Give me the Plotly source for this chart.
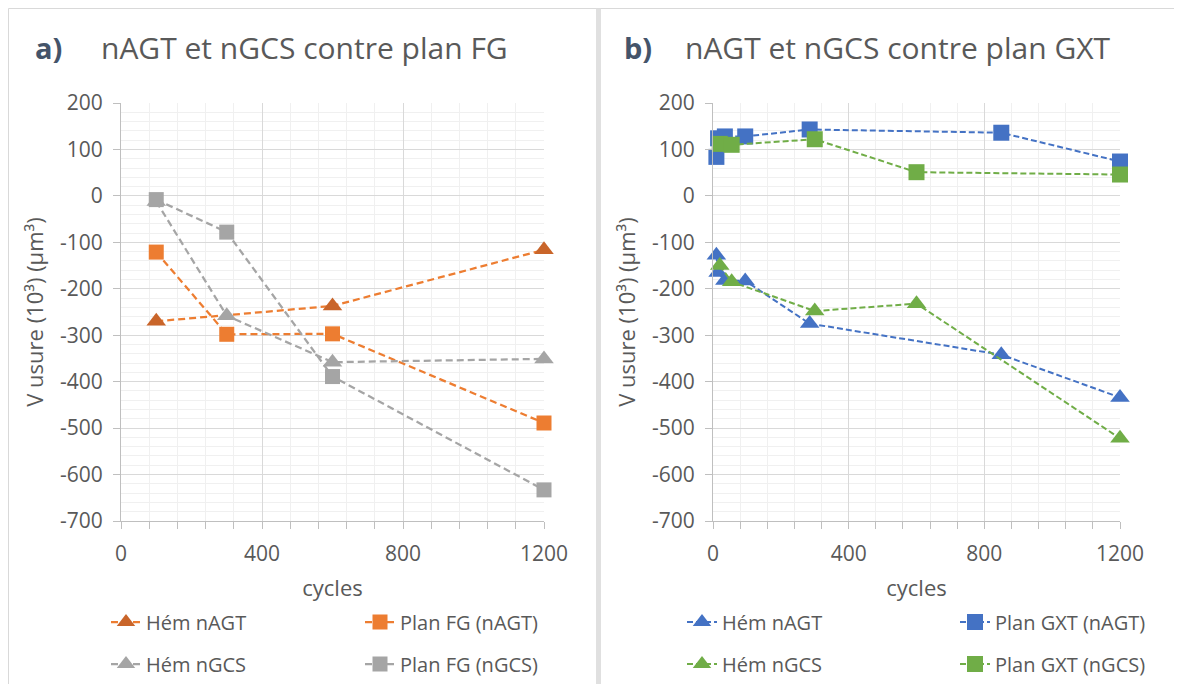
import plotly.graph_objects as go

# ---------------- data ----------------
# Panel a) : nAGT et nGCS contre plan FG
a_hem_nagt_x = [100, 600, 1200]
a_hem_nagt_y = [-270, -237, -116]
a_plan_nagt_x = [100, 300, 600, 1200]
a_plan_nagt_y = [-121, -298, -297, -489]
a_hem_ngcs_x = [100, 300, 600, 1200]
a_hem_ngcs_y = [-12, -258, -358, -351]
a_plan_ngcs_x = [100, 300, 600, 1200]
a_plan_ngcs_y = [-8, -78, -389, -633]

# Panel b) : nAGT et nGCS contre plan GXT
b_hem_nagt_x = [10, 15, 35, 95, 285, 850, 1200]
b_hem_nagt_y = [-128, -165, -182, -183, -275, -342, -434]
b_plan_nagt_x = [10, 15, 35, 95, 285, 850, 1200]
b_plan_nagt_y = [84, 124, 128, 128, 143, 136, 74]
b_hem_ngcs_x = [20, 55, 300, 600, 1200]
b_hem_ngcs_y = [-150, -185, -248, -232, -522]
b_plan_ngcs_x = [20, 55, 300, 600, 1200]
b_plan_ngcs_y = [112, 110, 122, 51, 46]

names_a = ["Hém nAGT", "Plan FG (nAGT)", "Hém nGCS", "Plan FG (nGCS)"]
names_b = ["Hém nAGT", "Plan GXT (nAGT)", "Hém nGCS", "Plan GXT (nGCS)"]
title_a = "nAGT et nGCS contre plan FG"
title_b = "nAGT et nGCS contre plan GXT"
x_title = "cycles"
y_title = "V usure (10³) (µm³)"
y_tick_vals = [200, 100, 0, -100, -200, -300, -400, -500, -600, -700]
y_tick_text = ["200", "100", "0", "-100", "-200", "-300", "-400", "-500", "-600", "-700"]
x_tick_vals = [0, 400, 800, 1200]
x_tick_text = ["0", "400", "800", "1200"]

# ---------------- style ----------------
# page body has an 8px margin: the figure is drawn 8px smaller and positions
# below are given in window pixels, shifted by that offset.
OFF = 8
W, H = 1182 - OFF, 684 - OFF
FONT = "Open Sans"
TXT = "#595959"
ORANGE, ORANGE_D, GRAY, BLUE, GREEN = "#ED7D31", "#C9652A", "#A5A5A5", "#4472C4", "#70AD47"

def px(x):
    return (x - OFF) / W

def py(y):
    return 1 - (y - OFF) / H

fig = go.Figure()

def add(x, y, name, lc, mc, sym, size, xa, ya, leg, dash, lw):
    fig.add_trace(go.Scatter(
        x=x, y=y, name=name, mode="lines+markers", xaxis=xa, yaxis=ya,
        line=dict(color=lc, width=lw, dash=dash),
        marker=dict(symbol=sym, size=size, color=mc),
        cliponaxis=False, legend=leg, showlegend=True))

dA = "7px,4px"
dB = "6px,3px"
add(a_hem_nagt_x, a_hem_nagt_y, names_a[0], ORANGE, ORANGE_D, "triangle-up", 17, "x", "y", "legend", dA, 2.25)
add(a_plan_nagt_x, a_plan_nagt_y, names_a[1], ORANGE, ORANGE, "square", 15, "x", "y", "legend2", dA, 2.25)
add(a_hem_ngcs_x, a_hem_ngcs_y, names_a[2], GRAY, GRAY, "triangle-up", 17, "x", "y", "legend3", dA, 2.25)
add(a_plan_ngcs_x, a_plan_ngcs_y, names_a[3], GRAY, GRAY, "square", 15, "x", "y", "legend4", dA, 2.25)

add(b_hem_nagt_x, b_hem_nagt_y, names_b[0], BLUE, BLUE, "triangle-up", 17, "x2", "y2", "legend5", dB, 2)
add(b_plan_nagt_x, b_plan_nagt_y, names_b[1], BLUE, BLUE, "square", 16, "x2", "y2", "legend6", dB, 2)
add(b_hem_ngcs_x, b_hem_ngcs_y, names_b[2], GREEN, GREEN, "triangle-up", 17, "x2", "y2", "legend7", dB, 2)
add(b_plan_ngcs_x, b_plan_ngcs_y, names_b[3], GREEN, GREEN, "square", 16, "x2", "y2", "legend8", dB, 2)

AX = "#BFBFBF"
def xaxis(dom, anchor):
    return dict(domain=dom, anchor=anchor, range=[0, 1200],
                tickmode="array", tickvals=x_tick_vals, ticktext=x_tick_text,
                showgrid=True, gridcolor="#D9D9D9", gridwidth=1,
                showline=True, linecolor=AX, linewidth=1, zeroline=False,
                ticks="outside", ticklen=7, tickcolor=AX,
                minor=dict(dtick=80, tick0=0, showgrid=True, gridcolor="#F0F0F0",
                           ticks="outside", ticklen=7, tickcolor=AX),
                tickfont=dict(family=FONT, size=21, color=TXT),
                ticklabelstandoff=7, automargin=False,
                title=dict(text=x_title, font=dict(family=FONT, size=22, color=TXT), standoff=14),
                fixedrange=True)

def yaxis(dom, anchor):
    return dict(domain=dom, range=[-700, 200], anchor=anchor,
                tickmode="array", tickvals=y_tick_vals, ticktext=y_tick_text,
                showgrid=True, gridcolor="#D9D9D9", gridwidth=1,
                showline=True, linecolor=AX, linewidth=1, zeroline=False,
                ticks="outside", ticklen=7, tickcolor=AX,
                minor=dict(dtick=20, tick0=0, showgrid=True, gridcolor="#F0F0F0"),
                tickfont=dict(family=FONT, size=21, color=TXT),
                ticklabelstandoff=6, automargin=False,
                title=dict(text=y_title, font=dict(family=FONT, size=22, color=TXT), standoff=10),
                fixedrange=True)

ydom = [py(521), py(103)]
layout = dict(
    width=W, height=H,
    margin=dict(l=0, r=0, t=0, b=0, autoexpand=False),
    showlegend=True,
    paper_bgcolor="white", plot_bgcolor="white",
    font=dict(family=FONT, color=TXT),
    xaxis=xaxis([px(121), px(544)], "y"),
    yaxis=yaxis(ydom, "x"),
    xaxis2=xaxis([px(713), px(1120)], "y2"),
    yaxis2=yaxis(ydom, "x2"),
)

# legends : one item each, placed in two columns x two rows under each panel
leg_pos = [(106, 622), (360, 622), (106, 664), (360, 664),
           (682, 622), (955, 622), (682, 664), (955, 664)]
for i, (lx, ly) in enumerate(leg_pos):
    key = "legend" if i == 0 else f"legend{i+1}"
    layout[key] = dict(x=px(lx), y=py(ly), xanchor="left", yanchor="middle",
                       bgcolor="rgba(0,0,0,0)", font=dict(family=FONT, size=20, color=TXT),
                       orientation="h")

fig.update_layout(**layout)

# panel frames: top edge, left edge, and the grey band between the two panels
FR = "#D9D9D9"
fig.add_shape(type="line", xref="paper", yref="paper", x0=px(8.5), x1=1, y0=py(8.5), y1=py(8.5),
              line=dict(color=FR, width=1), layer="below")
fig.add_shape(type="line", xref="paper", yref="paper", x0=px(8.5), x1=px(8.5), y0=0, y1=py(8.5),
              line=dict(color=FR, width=1), layer="below")
fig.add_shape(type="rect", xref="paper", yref="paper", x0=px(596), x1=px(601), y0=0, y1=py(8.5),
              line=dict(width=0), fillcolor="#E0E0E0", layer="below")

# titles
for lab, tx, lx, x0 in [("a)", title_a, 33, 99), ("b)", title_b, 622, 683)]:
    fig.add_annotation(x=px(lx), y=py(48), xref="paper", yref="paper", xanchor="left", yanchor="middle",
                       text=f"<b>{lab}</b>", showarrow=False,
                       font=dict(family=FONT, size=29, color="#44546A"))
    fig.add_annotation(x=px(x0), y=py(48), xref="paper", yref="paper", xanchor="left", yanchor="middle",
                       text=tx, showarrow=False, font=dict(family=FONT, size=30, color=TXT))

fig.write_html("out.html")
